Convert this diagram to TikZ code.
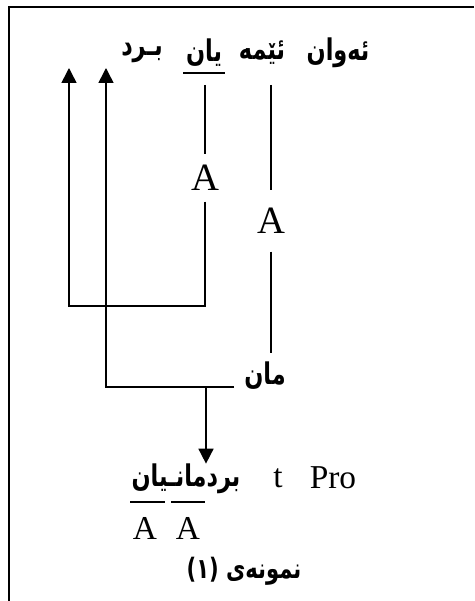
\documentclass[tikz,border=0pt]{standalone}
\usepackage{fontspec}
\usepackage{tikz}
\usetikzlibrary{arrows.meta}
\TeXXeTstate=1
\newfontfamily\arabicfont[Script=Arabic, FakeStretch=0.75]{DejaVu Sans}
\newfontfamily\latinfont{Liberation Serif}

\begin{document}
\begin{tikzpicture}[x=0.02cm, y=-0.02cm,
    ar/.style={font=\arabicfont\bfseries\fontsize{17}{19}\selectfont, inner sep=0pt},
    lat/.style={font=\latinfont\fontsize{22}{24}\selectfont, inner sep=6pt},
    small/.style={font=\latinfont\fontsize{19}{21}\selectfont, inner sep=0pt},
    rule/.style={line width=0.6pt},
    feed/.style={line width=0.9pt, -{Triangle[width=8.5pt,length=8.5pt]}}]
  \useasboundingbox (0,0) rectangle (474,601);
  \draw[line width=1pt] (474,7) -- (9,7) -- (9,601);

  % sentence on top
  \node[ar] (ewan) at (338,53) {\beginR ئەوان\endR};
  \node[ar] (eme) at (262,53) {\beginR ئێمە\endR};
  \node[ar] (yan) at (204,53) {\beginR یان\endR};
  \node[ar] (brd) at (142,53) {\beginR بـرد\endR};
  \draw[rule] (183,73) -- (225,73);

  \coordinate (yanfoot) at (205,85);
  \coordinate (emefoot) at (271,85);
  \coordinate (emeend) at (271,353);
  \coordinate (tipL) at (69,68);
  \coordinate (tipR) at (106,68);
  \coordinate (loopL) at (69,306);
  \coordinate (loopR) at (106,387);
  \coordinate (manend) at (234,387);
  \coordinate (split) at (206,387);

  \node[lat] (a1) at (205,178) {A};
  \node[lat, inner ysep=10pt] (a2) at (271,221) {A};
  \node[ar] (man) at (265,376) {\beginR مان\endR};

  \draw[rule] (yanfoot) -- (a1.north);
  \draw[feed] (a1.south) |- (loopL) -- (tipL);
  \draw[rule] (emefoot) -- (a2.north);
  \draw[rule] (a2.south) -- (emeend);
  \draw[feed] (manend) -- (loopR) -- (tipR);

  % result
  \node[ar] (brdman) at (186,479) {\beginR بردمانـیان\endR};
  \node[small] (t) at (278,478) {t};
  \node[small] (pro) at (333,478) {Pro};
  \draw[feed] (split) -- (split |- brdman.north);
  \draw[rule] (130,502) -- (165,502);
  \draw[rule] (171,502) -- (205,502);
  \node[small] (b1) at (145,528) {A};
  \node[small] (b2) at (188,528) {A};

  \node[ar, font=\arabicfont\bfseries\fontsize{16}{18}\selectfont] (caption) at (244,571) {\beginR نمونەی (١)\endR};
\end{tikzpicture}
\end{document}
